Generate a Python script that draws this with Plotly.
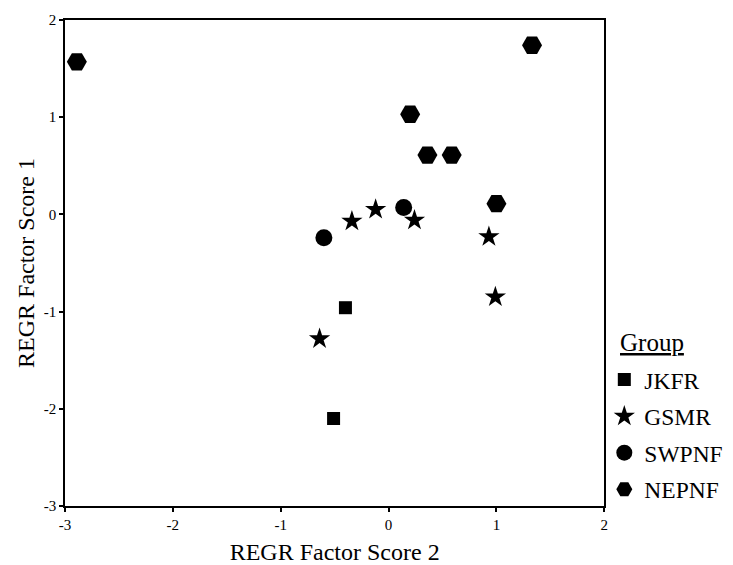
import plotly.graph_objects as go

groups = ["JKFR", "GSMR", "SWPNF", "NEPNF"]
jkfr_x = [-0.40, -0.51]
jkfr_y = [-0.96, -2.10]
gsmr_x = [-0.64, -0.34, -0.12, 0.24, 0.93, 0.99]
gsmr_y = [-1.28, -0.07, 0.05, -0.06, -0.23, -0.85]
swpnf_x = [-0.60, 0.14]
swpnf_y = [-0.24, 0.07]
nepnf_x = [-2.89, 1.33, 0.20, 0.36, 0.585, 1.00]
nepnf_y = [1.57, 1.74, 1.03, 0.61, 0.61, 0.11]

tick_vals = [-3, -2, -1, 0, 1, 2]
tick_text = ["-3", "-2", "-1", "0", "1", "2"]

xs = [jkfr_x, gsmr_x, swpnf_x, nepnf_x]
ys = [jkfr_y, gsmr_y, swpnf_y, nepnf_y]
symbols = ["square", "star", "circle", "hexagon2"]
sizes = [13, 16, 17, 20]

font = "Liberation Serif, Times New Roman, serif"
fig = go.Figure()
for g, x, y, s, sz in zip(groups, xs, ys, symbols, sizes):
    fig.add_trace(go.Scatter(
        x=x, y=y, mode="markers", name=g, legendgroup=g,
        marker=dict(symbol=s, size=sz, color="black", line=dict(width=0)),
        cliponaxis=False,
    ))

axis_common = dict(
    showgrid=False, zeroline=False, showline=True, linecolor="black",
    linewidth=1.5, mirror=True, ticks="outside", ticklen=4, tickwidth=2,
    tickcolor="black", tickfont=dict(family=font, size=15, color="black"),
    tickvals=tick_vals, ticktext=tick_text, automargin=False,
)
fig.update_layout(
    width=725, height=557,
    margin=dict(l=57, r=127, t=12, b=59),
    paper_bgcolor="white", plot_bgcolor="white",
    font=dict(family=font, color="black"),
    xaxis=dict(range=[-3, 2], title=dict(text="REGR Factor Score 2",
               font=dict(family=font, size=24), standoff=11), **axis_common),
    yaxis=dict(range=[-3, 2], title=dict(text="REGR Factor Score 1",
               font=dict(family=font, size=24), standoff=2), **axis_common),
    legend=dict(
        font=dict(family=font, size=23.5, color="black"),
        xref="container", yref="container",
        x=0.8225, xanchor="left", y=0.372, yanchor="top",
        tracegroupgap=3, bgcolor="rgba(0,0,0,0)",
    ),
    annotations=[dict(
        text="<u>Group</u>", xref="paper", yref="paper",
        x=1.0259, y=0.3354, xanchor="left", yanchor="middle",
        showarrow=False, font=dict(family=font, size=25, color="black"),
    )],
)
fig.write_html("out.html")
